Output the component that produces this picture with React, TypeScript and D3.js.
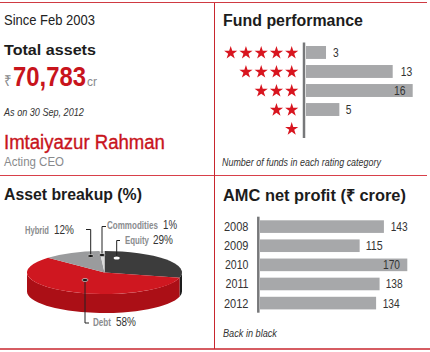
import React from "react";
import * as d3 from "d3";

const ratingStars = [5, 4, 3, 2, 1];
const ratingCounts = [3, 13, 16, 5, 0];
const profitYears = ["2008", "2009", "2010", "2011", "2012"];
const profitValues = [143, 115, 170, 138, 134];
const pieNames = ["Equity", "Debt", "Hybrid", "Commodities"];
const pieValues = [29, 58, 12, 1];
const pieTop = ["#3c3c3c", "#cf1720", "#9a9b9d", "#dcdcdc"];
const pieSide = ["#1d1d1d", "#ab0f16", "#777777", "#aaaaaa"];

const RED = "#c8141c";
const GREY = "#a7a8aa";
const FONT = "'Liberation Sans', Arial, sans-serif";

const starPath = d3.symbol(d3.symbolStar, 54)()!;

const measureCtx = document.createElement("canvas").getContext("2d")!;

type TP = { x: number; y: number; w: number; children: any; [k: string]: any };
// Text condensed horizontally to the width it has in the reference.
const T = ({ x, y, w, children, ...rest }: TP) => {
  const str = Array.isArray(children) ? children.join("") : String(children);
  const { fontStyle = "normal", fontWeight = 400, fontSize = 12 } = rest;
  measureCtx.font = `${fontStyle} ${fontWeight} ${fontSize}px ${FONT}`;
  const natural = measureCtx.measureText(str).width || w;
  return (
    <text transform={`translate(${x},${y}) scale(${w / natural},1)`} fontFamily={FONT} {...rest}>{children}</text>
  );
};

function App() {
  const fx = d3.scaleLinear().domain([0, 16]).range([0, 106.7]);
  const fy = d3.scaleBand<number>().domain(ratingStars).range([46, 135]).paddingInner(0.32);
  const px = d3.scaleLinear().domain([0, 170]).range([0, 147.3]);
  const py = d3.scaleBand<string>().domain(profitYears).range([220.3, 309.4]).paddingInner(0.34);
  const cx = 104.5, cy = 272.5, rx = 77.5, ry = 21.5, depth = 19;
  const arcs = d3.pie<number>().sort(null)(pieValues);
  const arcGen = d3.arc<d3.PieArcDatum<number>>().innerRadius(0).outerRadius(rx);
  const ex = (a: number) => cx + rx * Math.sin(a);
  const ey = (a: number) => cy - ry * Math.cos(a);
  const side = (a0: number, a1: number) => {
    const s = Math.max(a0, Math.PI / 2), e = Math.min(a1, (3 * Math.PI) / 2);
    if (e <= s) return "";
    const large = e - s > Math.PI ? 1 : 0;
    return `M${ex(s)},${ey(s)}A${rx},${ry} 0 ${large} 1 ${ex(e)},${ey(e)}L${ex(e)},${ey(e) + depth}A${rx},${ry} 0 ${large} 0 ${ex(s)},${ey(s) + depth}Z`;
  };

  const title = { fontWeight: 700, fontSize: 16.5, fill: "#1c1c1c" } as const;
  const note = { fontStyle: "italic", fontSize: 11, fill: "#333" } as const;
  const lab = { fontSize: 12.5, fill: "#333" } as const;
  const pieLab = { fontSize: 10.5, fontWeight: 700, fill: "#8a8c8e" } as const;
  const pieNum = { fontSize: 12.5, fill: "#333" } as const;

  const leaders = [
    { d: "M86,229.5H90.7V256", dot: [90.7, 256], fill: "#111" },
    { d: "M106,226.5H102V255", dot: [102, 255], fill: "#111" },
    { d: "M120,240.5H116.7V258", dot: [116.7, 258], fill: "#fff" },
    { d: "M89,323H85V280", dot: [85, 280], fill: "#111" },
  ];

  const fundTextX = [333, 400.7, 394, 345.7, 0];
  const fundTextW = [5.7, 11.5, 11.5, 5.7, 0];
  const profitTextX = [390.7, 365.7, 383, 385.7, 382.7];
  const yearX = [224, 224, 225, 225.5, 224];

  return (
    <svg width={430} height={352} style={{ position: "absolute", left: 0, top: 0, background: "#fff" }}>
      <path d="M0,2.5H427" stroke="#cf3a42" strokeWidth={1} fill="none" />
      <path d="M0,175.5H427" stroke="#d8404a" strokeWidth={1} fill="none" />
      <path d="M0,349H430" stroke="#c8262e" strokeWidth={1.3} fill="none" />
      <path d="M214.5,3V349" stroke="#c8262e" strokeWidth={1} fill="none" />

      <T x={4} y={25} w={91} fontSize={14} fill="#222">Since Feb 2003</T>
      <T x={4} y={55} w={92} {...title} fontSize={15}>Total assets</T>
      <T x={3.5} y={86} w={8} fontSize={15} fill="#888a8c">₹</T>
      <T x={13} y={86} w={73} fontWeight={700} fontSize={27} fill={RED}>70,783</T>
      <T x={87} y={86} w={10} fontSize={13} fill="#888a8c">cr</T>
      <T x={4} y={116} w={80} {...note}>As on 30 Sep, 2012</T>
      <T x={4} y={148.5} w={161} fontSize={19.5} fill={RED} stroke={RED} strokeWidth={0.35}>Imtaiyazur Rahman</T>
      <T x={4} y={165.7} w={60} fontSize={12.5} fill="#888a8c">Acting CEO</T>

      <T x={223} y={26} w={140} {...title}>Fund performance</T>
      {ratingStars.map((n, i) => (
        <g key={n}>
          {d3.range(n).map((k) => (
            <path key={k} d={starPath} fill="#d8151f"
              transform={`translate(${291.7 - k * 15.25},${fy(n)! + fy.bandwidth() / 2 + 0.5})`} />
          ))}
          {ratingCounts[i] > 0 && (
            <>
              <rect x={306} y={fy(n)} width={fx(ratingCounts[i])} height={fy.bandwidth()} fill={GREY} />
              <T x={fundTextX[i]} y={fy(n)! + fy.bandwidth() / 2 + 4.5} w={fundTextW[i]} {...lab}>{ratingCounts[i]}</T>
            </>
          )}
        </g>
      ))}
      <line x1={304} x2={304} y1={42.5} y2={138} stroke="#77787a" strokeWidth={2.5} />
      <T x={222} y={165.7} w={159} {...note}>Number of funds in each rating category</T>

      <T x={4} y={199.5} w={138} {...title}>Asset breakup (%)</T>
      {arcs.map((a, i) => <path key={"s" + i} d={side(a.startAngle, a.endAngle)} fill={pieSide[i]} />)}
      <g transform={`translate(${cx},${cy}) scale(1,${ry / rx})`}>
        {arcs.map((a, i) => <path key={pieNames[i]} d={arcGen(a)!} fill={pieTop[i]} />)}
      </g>
      {leaders.map((l, i) => (
        <g key={i}>
          <path d={l.d} fill="none" stroke="#222" strokeWidth={1} />
          <ellipse cx={l.dot[0]} cy={l.dot[1]} rx={3} ry={1.5} fill={l.fill} stroke={l.fill === "#fff" ? "none" : "#ddd"} strokeWidth={0.7} />
        </g>
      ))}
      <T x={25} y={233.5} w={24} {...pieLab}>{pieNames[2]}</T>
      <T x={54} y={234} w={20} {...pieNum}>{`${pieValues[2]}%`}</T>
      <T x={107} y={229} w={51} {...pieLab}>{pieNames[3]}</T>
      <T x={163} y={229} w={14} {...pieNum}>{`${pieValues[3]}%`}</T>
      <T x={125} y={244} w={24} {...pieLab}>{pieNames[0]}</T>
      <T x={153} y={244} w={20} {...pieNum}>{`${pieValues[0]}%`}</T>
      <T x={93} y={325.5} w={18} {...pieLab}>{pieNames[1]}</T>
      <T x={116} y={325.5} w={20} {...pieNum}>{`${pieValues[1]}%`}</T>

      <T x={223} y={201} w={183} {...title}>AMC net profit (₹ crore)</T>
      {profitYears.map((y, i) => (
        <g key={y}>
          <T x={yearX[i]} y={py(y)! + py.bandwidth() / 2 + 4.5} w={248.5 - yearX[i]} {...lab}>{y}</T>
          <rect x={260} y={py(y)} width={px(profitValues[i])} height={py.bandwidth()} fill={GREY} />
          <T x={profitTextX[i]} y={py(y)! + py.bandwidth() / 2 + 4.5} w={17} {...lab}>{profitValues[i]}</T>
        </g>
      ))}
      <line x1={258.3} x2={258.3} y1={216.7} y2={312.7} stroke="#77787a" strokeWidth={2.5} />
      <T x={223} y={337} w={54} {...note}>Back in black</T>
    </svg>
  );
}

export default App;
